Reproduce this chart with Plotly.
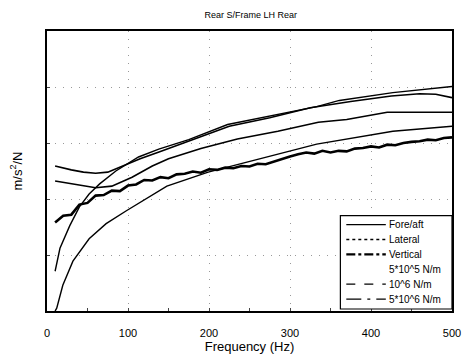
import plotly.graph_objects as go

TITLE = "Rear S/Frame LH Rear"
X_TICKS = [0, 100, 200, 300, 400, 500]

# Fore/aft (measured)
fa_hz = [10, 20, 30, 45, 60, 75, 95, 115, 140, 175, 225, 275, 325, 375, 425, 460, 480, 500]
fa_val = [2.59, 2.55, 2.52, 2.48, 2.46, 2.48, 2.60, 2.72, 2.85, 3.04, 3.30, 3.45, 3.63, 3.74, 3.84, 3.88, 3.87, 3.81]

# Lateral (measured)
lat_hz = [10, 30, 60, 80, 105, 130, 150, 190, 235, 285, 335, 370, 420, 460, 500]
lat_val = [2.32, 2.27, 2.20, 2.23, 2.39, 2.59, 2.72, 2.90, 3.07, 3.21, 3.37, 3.42, 3.55, 3.55, 3.55]

# Vertical (measured, noisy)
vert_hz = list(range(10, 510, 10))
vert_val = [1.58, 1.70, 1.72, 1.90, 1.93, 2.06, 2.07, 2.15, 2.14, 2.24,
            2.26, 2.34, 2.33, 2.39, 2.37, 2.44, 2.45, 2.49, 2.47, 2.53,
            2.52, 2.56, 2.55, 2.59, 2.58, 2.63, 2.62, 2.67, 2.72, 2.76,
            2.80, 2.83, 2.81, 2.86, 2.83, 2.86, 2.85, 2.90, 2.91, 2.94,
            2.92, 2.97, 2.96, 3.00, 3.02, 3.03, 3.06, 3.05, 3.09, 3.10]

# 10^6 N/m (model)
m1_hz = [10, 16, 28, 40, 52, 65, 85, 113, 138, 175, 223, 275, 333, 361, 427, 500]
m1_val = [0.71, 1.12, 1.52, 1.86, 2.09, 2.27, 2.50, 2.75, 2.89, 3.06, 3.33, 3.48, 3.65, 3.76, 3.90, 4.01]

# 5*10^6 N/m (model)
m2_hz = [10, 12, 19.5, 32, 52, 73, 98, 122, 148, 199, 260, 333, 427, 500]
m2_val = [0.0, 0.05, 0.46, 0.89, 1.29, 1.56, 1.79, 2.00, 2.23, 2.48, 2.71, 2.98, 3.21, 3.30]

LEGEND_NAMES = ["Fore/aft", "Lateral", "Vertical", "5*10^5 N/m", "10^6 N/m", "5*10^6 N/m"]
LEGEND_DASH = ["solid", "dot", "dashdot", None, "dash", "longdashdot"]
LEGEND_WIDTH = [1.2, 1.4, 2.2, 0, 1.2, 1.2]

W, H = 473, 364
ML, MR, MT, MB = 47, 16, 31, 51
PW, PH = W - ML - MR, H - MT - MB


def px(xp):
    return (xp - ML) / PW


def py(yp):
    return (H - MB - yp) / PH


fig = go.Figure()
for hz, val, w in [(fa_hz, fa_val, 1.6), (lat_hz, lat_val, 1.6), (vert_hz, vert_val, 2.6),
                   (m1_hz, m1_val, 1.4), (m2_hz, m2_val, 1.4)]:
    fig.add_trace(go.Scatter(x=hz, y=val, mode="lines", showlegend=False,
                             line=dict(color="black", width=w)))

# legend box drawn in paper coordinates
shapes = [dict(type="rect", xref="paper", yref="paper", x0=px(344), x1=px(457),
               y0=py(311), y1=py(217), fillcolor="white",
               line=dict(color="black", width=1.2), layer="above")]
annotations = []
row0, row_step = 226, 15
for i, (name, dash, w) in enumerate(zip(LEGEND_NAMES, LEGEND_DASH, LEGEND_WIDTH)):
    yr = row0 + i * row_step
    if dash is not None:
        shapes.append(dict(type="line", xref="paper", yref="paper",
                           x0=px(350), x1=px(390), y0=py(yr), y1=py(yr),
                           line=dict(color="black", width=w, dash=dash), layer="above"))
    annotations.append(dict(text=name, xref="paper", yref="paper", x=px(391), y=py(yr),
                            xanchor="left", yanchor="middle", showarrow=False,
                            font=dict(size=10)))

fig.update_layout(
    width=W, height=H,
    margin=dict(l=ML, r=MR, t=MT, b=MB),
    paper_bgcolor="white", plot_bgcolor="white",
    font=dict(family="Liberation Sans, Arial, sans-serif", color="black"),
    title=dict(text=TITLE, x=0.53, xanchor="center", y=1 - 15 / H, yanchor="middle",
               font=dict(size=9)),
    showlegend=False,
    shapes=shapes,
    annotations=annotations,
)
fig.update_xaxes(range=[0, 500], tickvals=X_TICKS, ticks="inside", ticklen=3,
                 minor=dict(dtick=50, ticks="inside", ticklen=3, showgrid=False),
                 showline=True, linecolor="black", linewidth=1.5, mirror=True,
                 showgrid=True, gridcolor="#999999", griddash="1px,7px", gridwidth=1,
                 zeroline=False, tickfont=dict(size=11), ticklabelstandoff=11,
                 title=dict(text="Frequency (Hz)", font=dict(size=13), standoff=4))
fig.update_yaxes(range=[0, 5], dtick=1, showticklabels=False, ticks="inside", ticklen=3,
                 showline=True, linecolor="black", linewidth=1.5, mirror=True,
                 showgrid=True, gridcolor="#999999", griddash="1px,7px", gridwidth=1,
                 zeroline=False,
                 title=dict(text="m/s<sup>2</sup>/N", font=dict(size=13), standoff=20))

fig.write_html("out.html", config={"displayModeBar": False},
               post_script="document.body.style.margin='0';document.body.style.overflow='hidden';")
